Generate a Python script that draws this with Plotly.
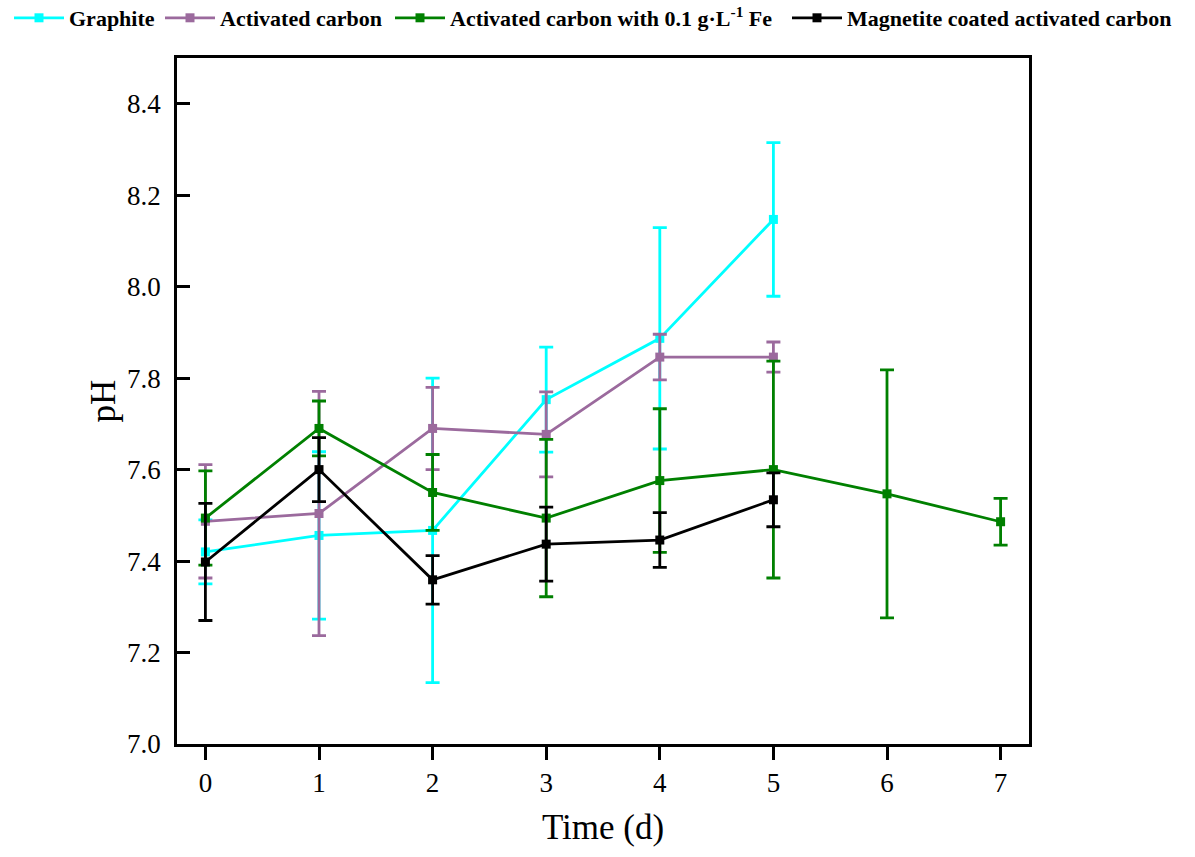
import plotly.graph_objects as go

# pH over time for four electrode/carrier materials (mean ± SD)
days = [0, 1, 2, 3, 4, 5, 6, 7]

graphite_days = [0, 1, 2, 3, 4, 5]
graphite_ph = [7.42, 7.456, 7.467, 7.753, 7.887, 8.147]
graphite_sd = [0.07, 0.183, 0.333, 0.115, 0.242, 0.168]

ac_days = [0, 1, 2, 3, 4, 5]
ac_ph = [7.487, 7.504, 7.69, 7.677, 7.846, 7.846]
ac_sd = [0.124, 0.267, 0.09, 0.093, 0.05, 0.033]

acfe_days = [0, 1, 2, 3, 4, 5, 6, 7]
acfe_ph = [7.494, 7.69, 7.55, 7.494, 7.576, 7.60, 7.547, 7.486]
acfe_sd = [0.103, 0.06, 0.083, 0.172, 0.157, 0.237, 0.271, 0.051]

mag_days = [0, 1, 2, 3, 4, 5]
mag_ph = [7.398, 7.60, 7.359, 7.437, 7.446, 7.534]
mag_sd = [0.128, 0.07, 0.053, 0.081, 0.06, 0.059]

series = [
    ("Graphite", graphite_days, graphite_ph, graphite_sd, "#00FFFF"),
    ("Activated carbon", ac_days, ac_ph, ac_sd, "#9B6A9D"),
    ("Activated carbon with 0.1 g·L<sup>-1</sup> Fe", acfe_days, acfe_ph, acfe_sd, "#008000"),
    ("Magnetite coated activated carbon", mag_days, mag_ph, mag_sd, "#000000"),
]

serif = "Liberation Serif, Times New Roman, serif"

# one single-entry legend per series so the key runs in one line across the top
legend_ids = ["legend", "legend2", "legend3", "legend4"]
legend_left_px = [9, 160, 390, 787]

fig = go.Figure()
for (name, x, y, sd, color), lid in zip(series, legend_ids):
    fig.add_trace(go.Scatter(
        x=x, y=y, name=name, mode="lines+markers", legend=lid,
        line=dict(color=color, width=2.8),
        marker=dict(symbol="square", size=9, color=color),
        error_y=dict(type="data", array=sd, visible=True,
                     color=color, thickness=2.8, width=7),
    ))

W, H = 1195, 857
legend_style = {}
for lid, left in zip(legend_ids, legend_left_px):
    legend_style[lid] = dict(
        orientation="h", xref="container", yref="container",
        x=left / W, xanchor="left", y=1 - 18 / H, yanchor="middle",
        font=dict(family=serif, size=22, color="black", weight="bold"),
        itemwidth=50, bgcolor="rgba(0,0,0,0)", borderwidth=0,
    )

fig.update_layout(
    width=W, height=H,
    margin=dict(l=177, r=166, t=58, b=113),
    paper_bgcolor="white", plot_bgcolor="white",
    font=dict(family=serif, color="black"),
    showlegend=True,
    **legend_style,
)

fig.update_xaxes(
    range=[-0.25, 7.25], tickvals=days, ticktext=[str(d) for d in days],
    showline=True, mirror=True, linecolor="black", linewidth=2.5,
    ticks="outside", ticklen=13, tickwidth=2.5, tickcolor="black",
    showgrid=False, zeroline=False,
    tickfont=dict(family=serif, size=27, color="black"),
    title=dict(text="Time (d)", font=dict(family=serif, size=35, color="black"), standoff=18),
)

fig.update_yaxes(
    range=[7.0, 8.5], tickvals=[7.0, 7.2, 7.4, 7.6, 7.8, 8.0, 8.2, 8.4],
    tickformat=".1f",
    showline=True, mirror=True, linecolor="black", linewidth=2.5,
    ticks="inside", ticklen=13, tickwidth=2.5, tickcolor="black",
    showgrid=False, zeroline=False, ticklabelstandoff=8,
    tickfont=dict(family=serif, size=27, color="black"),
    title=dict(text="pH", font=dict(family=serif, size=35, color="black"), standoff=1),
)

fig.write_html("out.html")
